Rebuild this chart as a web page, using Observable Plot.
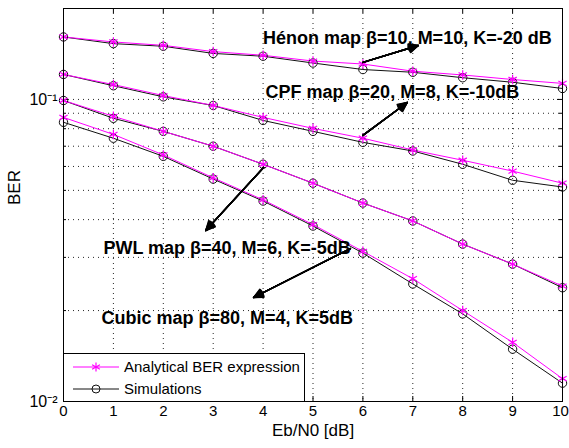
<!DOCTYPE html>
<html>
<head>
<meta charset="utf-8">
<script src="https://cdn.jsdelivr.net/npm/d3@7"></script>
<script src="https://cdn.jsdelivr.net/npm/@observablehq/plot@0.6"></script>
<style>
  html, body { margin: 0; padding: 0; background: #fff; }
  #wrap { position: relative; width: 569px; height: 448px; font-family: "Liberation Sans", Arial, sans-serif; }
  #legend { position: absolute; left: 63px; top: 353px; width: 240px; height: 47px; border: 1px solid #000; background: #fff; box-sizing: content-box; }
  #legend .row { position: absolute; left: 0; height: 20px; width: 100%; }
  #legend svg { position: absolute; left: 0; top: 0; }
  #legend span { position: absolute; left: 60px; top: 1px; font-size: 15px; line-height: 18px; color: #000; }
</style>
</head>
<body>
<div id="wrap"></div>
<script>
// ---- data ----
const ebn0 = [0, 1, 2, 3, 4, 5, 6, 7, 8, 9, 10];

const henonAnalytical = [0.161, 0.155, 0.151, 0.144, 0.140, 0.134, 0.131, 0.124, 0.1205, 0.1164, 0.113];
const henonSim        = [0.161, 0.153, 0.150, 0.142, 0.139, 0.132, 0.1256, 0.123, 0.118, 0.114, 0.1087];
const cpfAnalytical   = [0.121, 0.112, 0.103, 0.0955, 0.0872, 0.0802, 0.0744, 0.068, 0.0629, 0.0579, 0.0528];
const cpfSim          = [0.121, 0.111, 0.102, 0.0955, 0.0852, 0.0784, 0.0721, 0.0675, 0.061, 0.054, 0.0513];
const pwlAnalytical   = [0.0992, 0.0879, 0.0784, 0.070, 0.061, 0.0528, 0.0454, 0.0396, 0.0332, 0.0285, 0.0241];
const pwlSim          = [0.0992, 0.0866, 0.0784, 0.070, 0.061, 0.0528, 0.0454, 0.0396, 0.0332, 0.0285, 0.0238];
const cubicAnalytical = [0.0872, 0.0766, 0.0655, 0.0550, 0.0465, 0.0385, 0.0314, 0.0255, 0.0200, 0.0157, 0.0119];
const cubicSim        = [0.084, 0.0744, 0.0648, 0.0545, 0.0461, 0.0381, 0.0310, 0.0245, 0.0195, 0.0149, 0.0115];

const curveNames = ["Hénon", "CPF", "PWL", "Cubic"];
const legendLabels = ["Analytical BER expression", "Simulations"];

const xTicks = [0, 1, 2, 3, 4, 5, 6, 7, 8, 9, 10];
const yMajorTicks = [0.01, 0.1];
const yMinorTicks = [0.02, 0.03, 0.04, 0.05, 0.06, 0.07, 0.08, 0.09, 0.2];
const yTickLabels = ["10⁻²", "10⁻¹"];

const annotTexts = [
  "Hénon map β=10, M=10, K=-20 dB",
  "CPF map β=20, M=8, K=-10dB",
  "PWL map β=40, M=6, K=-5dB",
  "Cubic map β=80, M=4, K=5dB"
];
const annotX = [4.0, 4.05, 0.8, 0.76];
const annotY = [0.160, 0.1054, 0.0321, 0.01882];
const arrowFromX = [6.0, 6.0, 4.01, 5.75];
const arrowFromY = [0.1326, 0.076, 0.0595, 0.0321];
const arrowToX = [7.11, 6.89, 2.85, 3.81];
const arrowToY = [0.1508, 0.0977, 0.0368, 0.0221];

// ---- tables ----
const analyticalSets = [henonAnalytical, cpfAnalytical, pwlAnalytical, cubicAnalytical];
const simSets = [henonSim, cpfSim, pwlSim, cubicSim];
const analytical = analyticalSets.flatMap((arr, i) => arr.map((v, j) => ({curve: curveNames[i], x: ebn0[j], y: v})));
const sims = simSets.flatMap((arr, i) => arr.map((v, j) => ({curve: curveNames[i], x: ebn0[j], y: v})));
const annots = annotTexts.map((t, i) => ({text: t, x: annotX[i], y: annotY[i]}));
const arrows = annotTexts.map((t, i) => ({x1: arrowFromX[i], y1: arrowFromY[i], x2: arrowToX[i], y2: arrowToY[i]}));

const W = 569, H = 448, mL = 63, mR = 7, mT = 8, mB = 47;
const pw = W - mL - mR, ph = H - mT - mB;

const magenta = "#ff00ff";
const dark = "#111";
const headLayers = [6, 14, 22, 30, 38, 46, 52];
const lastTick = xTicks[xTicks.length - 1];

const chart = Plot.plot({
  width: W, height: H,
  marginLeft: mL, marginRight: mR, marginTop: mT, marginBottom: mB,
  style: {fontFamily: "'Liberation Sans', Arial, sans-serif", background: "#fff", color: "#000", overflow: "visible"},
  x: {domain: [0, 10]},
  y: {type: "log", domain: [0.01, 0.2]},
  marks: [
    // grid
    Plot.ruleX(xTicks.slice(1, -1), {x: d => d, stroke: "#000", strokeWidth: 1, strokeDasharray: "1,4", strokeOpacity: 0.85}),
    Plot.ruleY(yMajorTicks.concat(yMinorTicks).filter(d => d > 0.01 && d < 0.2), {y: d => d, stroke: "#000", strokeWidth: 1, strokeDasharray: "1,4", strokeOpacity: 0.85}),
    // inside ticks
    Plot.tickX(xTicks, {x: d => d, insetTop: ph - 5, stroke: "#000"}),
    Plot.tickX(xTicks, {x: d => d, insetBottom: ph - 5, stroke: "#000"}),
    Plot.tickY(yMajorTicks, {y: d => d, insetRight: pw - 5, stroke: "#000"}),
    Plot.tickY(yMajorTicks, {y: d => d, insetLeft: pw - 5, stroke: "#000"}),
    Plot.tickY(yMinorTicks, {y: d => d, insetRight: pw - 3, stroke: "#000"}),
    Plot.tickY(yMinorTicks, {y: d => d, insetLeft: pw - 3, stroke: "#000"}),
    // curves
    Plot.line(sims, {x: "x", y: "y", z: "curve", stroke: dark, strokeWidth: 1}),
    Plot.line(analytical, {x: "x", y: "y", z: "curve", stroke: magenta, strokeWidth: 1}),
    Plot.dot(sims, {x: "x", y: "y", r: 4.2, stroke: dark, strokeWidth: 1, fill: "none"}),
    Plot.dot(analytical, {x: "x", y: "y", r: 4.5, symbol: "asterisk", stroke: magenta, strokeWidth: 1.2}),
    // annotation arrows
    Plot.arrow(arrows, {x1: "x1", y1: "y1", x2: "x2", y2: "y2", stroke: "#000", strokeWidth: 1, headLength: 0}),
    ...headLayers.map(a => Plot.arrow(arrows, {x1: "x1", y1: "y1", x2: "x2", y2: "y2", stroke: "#000", strokeWidth: 1.4, headLength: 11, headAngle: a})),
    Plot.text(annots, {x: "x", y: "y", text: "text", textAnchor: "start", fontWeight: "bold", fontSize: 18, fill: "#000"}),
    // frame & axes
    Plot.frame({stroke: "#000", strokeWidth: 1}),
    Plot.axisX({ticks: xTicks.slice(0, -1), tickSize: 0, tickPadding: 4, fontSize: 15, label: null, tickFormat: d => String(d)}),
    Plot.axisX({ticks: [lastTick], tickSize: 0, tickPadding: 4, fontSize: 15, label: null, dx: -2, tickFormat: d => String(d)}),
    Plot.axisY({ticks: yMajorTicks, tickSize: 0, tickPadding: 6, fontSize: 16, label: null, tickFormat: d => yTickLabels[yMajorTicks.indexOf(d)]}),
    Plot.text(["Eb/N0 [dB]"], {frameAnchor: "bottom", dy: 34, fontSize: 17, fill: "#000"}),
    Plot.text(["BER"], {frameAnchor: "left", dx: -49, rotate: -90, fontSize: 17, fill: "#000"})
  ]
});

const wrap = document.getElementById("wrap");
chart.style.position = "absolute";
chart.style.left = "0";
chart.style.top = "0";
wrap.appendChild(chart);

// legend
const legend = document.createElement("div");
legend.id = "legend";
const rowTops = [3, 25];
legendLabels.forEach((lab, i) => {
  const row = document.createElement("div");
  row.className = "row";
  row.style.top = rowTops[i] + "px";
  const color = i === 0 ? magenta : dark;
  let marker;
  if (i === 0) {
    marker = `<g stroke="${color}" stroke-width="1.2"><line x1="32" y1="5.5" x2="32" y2="14.5"/><line x1="28.1" y1="7.75" x2="35.9" y2="12.25"/><line x1="28.1" y1="12.25" x2="35.9" y2="7.75"/></g>`;
  } else {
    marker = `<circle cx="32" cy="10" r="4" fill="none" stroke="${color}" stroke-width="1"/>`;
  }
  row.innerHTML = `<svg width="60" height="20"><line x1="9" y1="10" x2="55" y2="10" stroke="${color}" stroke-width="1"/>${marker}</svg><span>${lab}</span>`;
  legend.appendChild(row);
});
wrap.appendChild(legend);
</script>
</body>
</html>
